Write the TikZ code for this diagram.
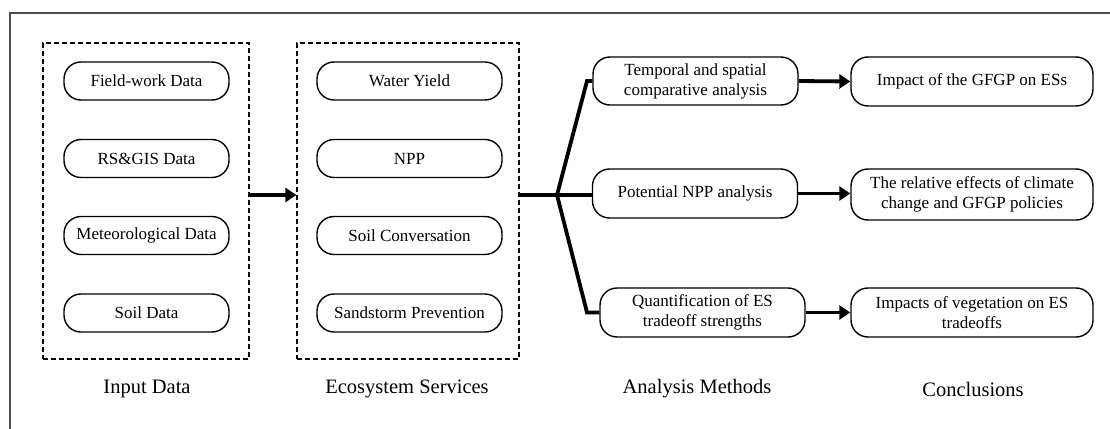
\documentclass[tikz,border=0pt]{standalone}
\usepackage{fontspec}
\setmainfont{Liberation Serif}
\usetikzlibrary{arrows.meta}
\begin{document}
\begin{tikzpicture}[x=1pt,y=-1pt,
  pill/.style={draw=black,line width=1.4pt,rounded corners=17pt,align=center,
    font=\fontsize{17}{20}\selectfont,inner sep=0pt},
  dbox/.style={draw=black,line width=1.3pt,dash pattern=on 5pt off 3pt},
  thick line/.style={line width=3.8pt,line join=miter},
  arr/.style={line width=3.8pt,-{Triangle[length=11pt,width=14pt]}},
  cap label/.style={font=\fontsize{20.5}{24}\selectfont}]
\useasboundingbox (0,0) rectangle (1110,428);
\begin{scope}
\clip (0,0) rectangle (1110,428);
\draw[line width=1.3pt,draw=black!70] (10,13) rectangle (1130,450);
\end{scope}
% dashed group boxes
\node[dbox,minimum width=206pt,minimum height=316pt,inner sep=0pt] (inbox) at (146,201) {};
\node[dbox,minimum width=222pt,minimum height=316pt,inner sep=0pt] (esbox) at (408,201) {};
% input pills
\node[pill,minimum width=165pt,minimum height=38pt] (i1) at (146.5,81) {Field-work Data};
\node[pill,minimum width=165pt,minimum height=38pt] (i2) at (146.5,158.5) {RS\&GIS Data};
\node[pill,minimum width=165pt,minimum height=38pt] (i3) at (146.5,235.5) {Meteorological Data};
\node[pill,minimum width=165pt,minimum height=38pt] (i4) at (146.5,313) {Soil Data};
% ES pills
\node[pill,minimum width=185pt,minimum height=38pt] (e1) at (409.5,81) {Water Yield};
\node[pill,minimum width=185pt,minimum height=38pt] (e2) at (409.5,158.5) {NPP};
\node[pill,minimum width=185pt,minimum height=38pt] (e3) at (409.5,235.5) {Soil Conversation};
\node[pill,minimum width=185pt,minimum height=38pt] (e4) at (409.5,313) {Sandstorm Prevention};
% analysis pills
\node[pill,minimum width=205pt,minimum height=48pt] (a1) at (695.5,81) {Temporal and spatial\\comparative analysis};
\node[pill,minimum width=205pt,minimum height=49pt] (a2) at (695,193.5) {Potential NPP analysis};
\node[pill,minimum width=205pt,minimum height=49pt] (a3) at (702.5,312.5) {Quantification of ES\\tradeoff strengths};
% conclusion pills
\node[pill,minimum width=242pt,minimum height=49pt] (c1) at (972,81.5) {Impact of the GFGP on ESs};
\node[pill,minimum width=242pt,minimum height=51pt] (c2) at (972,194.5) {The relative effects of climate\\change and GFGP policies};
\node[pill,minimum width=242pt,minimum height=49pt] (c3) at (972,312.5) {Impacts of vegetation on ES\\tradeoffs};
% connectors
\coordinate (J) at (557,195);
\coordinate (Bt) at (587,81);
\coordinate (Bb) at (587,312.5);
\draw[arr] (inbox.east |- 0,195) -- (esbox.west |- 0,195);
\draw[thick line] (esbox.east |- J) -- (J);
\draw[thick line] (J) -- (Bt) -- (a1.west);
\draw[thick line] (J) -- (a2.west |- J);
\draw[thick line] (J) -- (Bb) -- (a3.west);
\draw[arr] (a1.east) -- (c1.west);
\draw[arr] (a2.east) -- (c2.west |- a2.east);
\draw[arr] (a3.east) -- (c3.west);
% labels
\node[cap label] (l1) at (147,389) {Input Data};
\node[cap label] (l2) at (407,389) {Ecosystem Services};
\node[cap label] (l3) at (697,389) {Analysis Methods};
\node[cap label] (l4) at (973,389) {Conclusions};
\end{tikzpicture}
\end{document}
